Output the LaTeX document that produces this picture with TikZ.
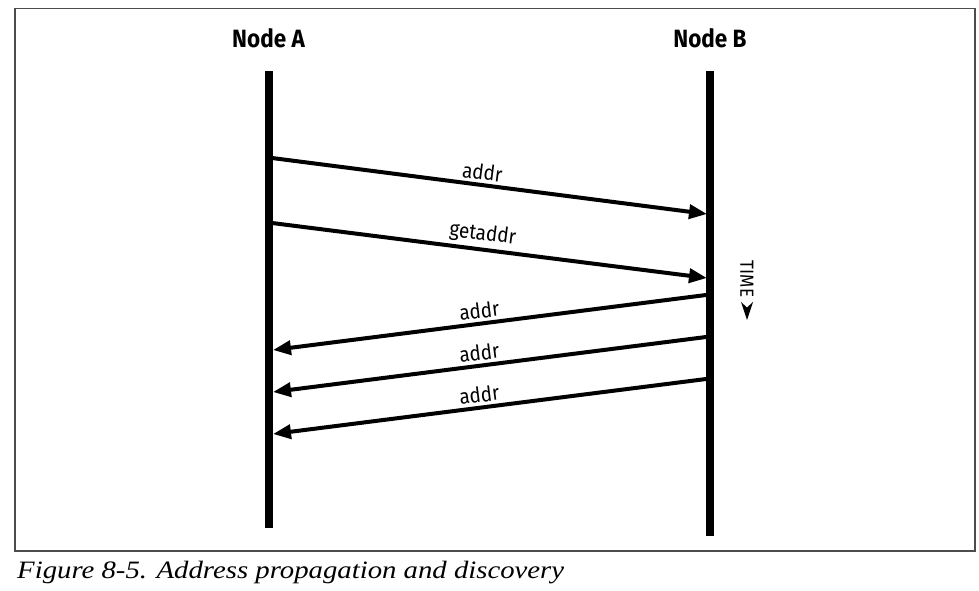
\documentclass[tikz,border=0pt]{standalone}
\usepackage{fontspec}
\setmainfont{Liberation Serif}
\newfontfamily\lblfont[FakeStretch=0.9]{Fira Sans}
\newfontfamily\capfont[FakeStretch=1.15]{Liberation Serif}
\usetikzlibrary{arrows.meta}

\tikzset{
  lifeline/.style={line width=8pt},
  msg/.style={line width=4pt, -{Triangle[length=18pt,width=14pt]}},
  msglbl/.style={sloped, above, inner sep=3pt, font=\lblfont\fontsize{21}{24}\selectfont},
  hdr/.style={font=\lblfont\bfseries\fontsize{25}{30}\selectfont},
}

\begin{document}
\begin{tikzpicture}[x=1pt,y=-1pt]
    \useasboundingbox (0,0) rectangle (979,590);
    \draw[gray!60!black, line width=1.5pt] (15,8.5) rectangle (975,551);
    \node[hdr] (nodeA) at (268.5,38) {Node A};
    \node[hdr] (nodeB) at (710,38) {Node B};
    \coordinate (topA) at (268.5,71);
    \coordinate (botA) at (268.5,528);
    \coordinate (topB) at (710,71);
    \coordinate (botB) at (710,536);
    \draw[lifeline] (topA) -- (botA);
    \draw[lifeline] (topB) -- (botB);
    % A to B
    \coordinate (a1) at (272,158); \coordinate (b1) at (707,214);
    \coordinate (a2) at (272,223); \coordinate (b2) at (707,278);
    \draw[msg] (a1) -- node[msglbl, pos=0.48] {addr} (b1);
    \draw[msg] (a2) -- node[msglbl, pos=0.48] {getaddr} (b2);
    % B to A
    \coordinate (b3) at (706,295); \coordinate (a3) at (273,350);
    \coordinate (b4) at (706,337); \coordinate (a4) at (273,392);
    \coordinate (b5) at (706,379); \coordinate (a5) at (273,434);
    \draw[msg] (b3) -- node[msglbl, pos=0.52] {addr} (a3);
    \draw[msg] (b4) -- node[msglbl, pos=0.52] {addr} (a4);
    \draw[msg] (b5) -- node[msglbl, pos=0.52] {addr} (a5);
    % time direction
    \node[rotate=-90, inner sep=0pt, font=\lblfont\fontsize{19}{22}\selectfont] (time) at (747,279) {TIME};
    \coordinate (timetip) at (747,320);
    \fill (741,302) -- (747,307.5) -- (753,302) -- (timetip) -- cycle;
    \node[anchor=base west, inner sep=0pt, font=\capfont\itshape\fontsize{25}{30}\selectfont] (caption) at (17,578) {Figure 8-5. Address propagation and discovery};
\end{tikzpicture}
\end{document}
